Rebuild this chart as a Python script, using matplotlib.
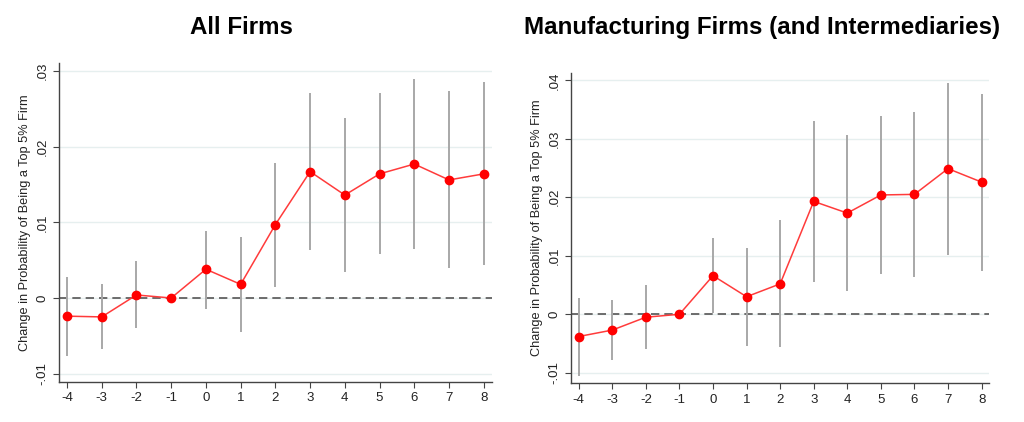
import matplotlib.pyplot as plt

plt.rcParams['font.family'] = ['Liberation Sans', 'DejaVu Sans']

# event time
periods = [-4, -3, -2, -1, 0, 1, 2, 3, 4, 5, 6, 7, 8]

# All firms
all_coef = [-0.0024, -0.0025, 0.0004, 0.0, 0.0038, 0.0018, 0.0097, 0.0167, 0.0136, 0.0164, 0.0177, 0.0156, 0.0164]
all_hi = [0.0028, 0.0018, 0.0049, None, 0.0089, 0.0080, 0.0179, 0.0271, 0.0238, 0.0271, 0.0289, 0.0274, 0.0285]
all_lo = [-0.0077, -0.0067, -0.0040, None, -0.0014, -0.0045, 0.0014, 0.0063, 0.0034, 0.0058, 0.0065, 0.0040, 0.0043]

# Manufacturing firms (and intermediaries)
mfg_coef = [-0.0038, -0.0027, -0.0005, 0.0, 0.0066, 0.0030, 0.0052, 0.0193, 0.0173, 0.0204, 0.0205, 0.0249, 0.0226]
mfg_hi = [0.0027, 0.0025, 0.0050, None, 0.0131, 0.0114, 0.0162, 0.0331, 0.0306, 0.0339, 0.0346, 0.0396, 0.0377]
mfg_lo = [-0.0105, -0.0078, -0.0060, None, 0.0002, -0.0054, -0.0056, 0.0056, 0.0040, 0.0069, 0.0063, 0.0101, 0.0074]

all_yticks = [-0.01, 0, 0.01, 0.02, 0.03]
all_yticklabels = ['-.01', '0', '.01', '.02', '.03']
mfg_yticks = [-0.01, 0, 0.01, 0.02, 0.03, 0.04]
mfg_yticklabels = ['-.01', '0', '.01', '.02', '.03', '.04']

ylabel = 'Change in Probability of Being a Top 5% Firm'


def draw_panel(ax, coef, lo, hi, yticks, yticklabels, ylim):
    # confidence intervals (no CI for the omitted period)
    for x, l, h in zip(periods, lo, hi):
        if l is not None:
            ax.vlines(x, l, h, color='#a8a8a8', lw=1.4, zorder=2)
    ax.axhline(0, color='#555555', lw=1.2, ls=(0, (5, 3)), zorder=1)
    ax.plot(periods, coef, color='#ff3b3b', lw=1.1, marker='o', ms=6,
            mfc='#ff0000', mec='#ff0000', zorder=3)
    ax.set_xlim(-4.24, 8.23)
    ax.set_ylim(*ylim)
    ax.set_xticks(periods)
    ax.set_xticklabels([str(p) for p in periods])
    ax.set_yticks(yticks)
    ax.set_yticklabels(yticklabels, rotation=90, va='center')
    ax.grid(axis='y', color='#e6efef', lw=1)
    ax.set_axisbelow(True)
    for s in ['top', 'right']:
        ax.spines[s].set_visible(False)
    for s in ['left', 'bottom']:
        ax.spines[s].set_color('#444444')
        ax.spines[s].set_linewidth(1.0)
    ax.tick_params(colors='#444444', labelsize=9.5, length=4, labelcolor='#222222')
    ax.set_ylabel(ylabel, fontsize=9.2, color='#222222', labelpad=4)


fig = plt.figure(figsize=(10.24, 4.22), dpi=100)
ax1 = fig.add_axes([0.0573, 0.0948, 0.4229, 0.755])
ax2 = fig.add_axes([0.5573, 0.0917, 0.4088, 0.736])

draw_panel(ax1, all_coef, all_lo, all_hi, all_yticks, all_yticklabels, (-0.0111, 0.031))
draw_panel(ax2, mfg_coef, mfg_lo, mfg_hi, mfg_yticks, mfg_yticklabels, (-0.0118, 0.0413))

fig.text(0.236, 0.936, 'All Firms', ha='center', va='center', fontsize=17.4, fontweight='bold')
fig.text(0.7446, 0.936, 'Manufacturing Firms (and Intermediaries)', ha='center', va='center',
         fontsize=17.4, fontweight='bold')

fig.savefig('out.png', dpi=100)
